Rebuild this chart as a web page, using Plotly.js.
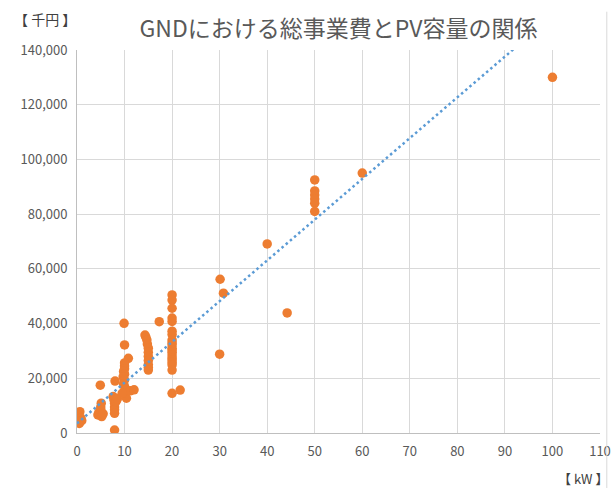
<!DOCTYPE html>
<html>
<head>
<meta charset="utf-8">
<script src="https://cdn.plot.ly/plotly-3.0.1.min.js"></script>
<style>html,body{margin:0;padding:0;background:#fff;overflow:hidden}</style>
</head>
<body>
<div id="chart" style="width:616px;height:488px"></div>
<script>
// PV capacity (kW)
const capacityKW = [
  0.2, 0.3, 0.5, 0.6, 0.8, 1.0,
  4.4, 4.6, 5.0, 5.1, 5.0, 4.9, 5.2, 5.5,
  7.6, 7.8, 7.9, 7.9, 7.9, 7.9, 7.9, 8.0, 8.2, 8.5,
  9.9, 10.0, 10.8, 10.0, 10.0, 10.0, 9.8, 10.0, 9.7, 10.0, 9.8, 10.0, 10.2, 10.4, 11.2, 12.0, 9.5,
  14.3, 14.5, 14.7, 14.8, 15.0, 15.0, 15.0, 15.0, 15.0, 15.0, 15.0, 17.3,
  20, 20, 20, 20, 20, 20, 20, 20, 20, 20, 20, 20, 20, 20, 20, 20, 20, 20, 20, 20, 21.7,
  30.1, 30.8, 30.0,
  40.0, 44.2,
  50, 50, 50, 50, 50, 50,
  60, 100
];
// Total project cost (thousand yen)
const totalCost = [
  4100, 5000, 3500, 7800, 5500, 4500,
  6600, 7500, 8500, 10900, 9500, 17500, 6000, 7000,
  13300, 12000, 10900, 9500, 8500, 7200, 1100, 19000, 11500, 12500,
  40100, 32200, 27300, 25600, 24500, 23500, 22500, 21500, 20500, 19400, 18000, 17000, 16000, 12700, 15400, 15800, 14500,
  35800, 35000, 34000, 32500, 31000, 29500, 28000, 26500, 25000, 24000, 23000, 40700,
  50450, 48600, 45600, 42000, 40800, 37200, 36000, 34000, 33000, 32200, 31000, 30300, 29500, 28500, 27500, 26700, 25800, 24900, 23000, 14500, 15700,
  56200, 51100, 28800,
  69100, 43900,
  92500, 88500, 87000, 85500, 84000, 81000,
  95000, 130000
];
// Linear trendline endpoints
const trendX = [0, 110];
const trendY = [3500, 167400];

const xTicks = [0, 10, 20, 30, 40, 50, 60, 70, 80, 90, 100, 110];
const yTicks = [0, 20000, 40000, 60000, 80000, 100000, 120000, 140000];

const titleText = 'GNDにおける総事業費とPV容量の関係';
const yUnit = '【 千円 】';
const xUnit = '【 kW 】';

const FONT = '"Noto Sans CJK JP", "Noto Sans", sans-serif';

const traces = [
  {
    x: capacityKW, y: totalCost, type: 'scatter', mode: 'markers',
    marker: {color: '#ED7D31', size: 9.5, line: {width: 0}},
    hoverinfo: 'x+y', showlegend: false
  },
  {
    x: trendX, y: trendY, type: 'scatter', mode: 'lines',
    line: {color: '#5B9BD5', width: 2.5, dash: '2.5px,3px'},
    hoverinfo: 'skip', showlegend: false
  }
];

const layout = {
  width: 616, height: 488,
  margin: {l: 77, r: 16, t: 50, b: 55},
  paper_bgcolor: '#ffffff', plot_bgcolor: '#ffffff',
  font: {family: FONT, color: '#595959', size: 13},
  title: {text: titleText, x: 0.5, xref: 'paper', xanchor: 'center', y: 0.94, yref: 'container', yanchor: 'middle',
          font: {family: FONT, size: 23, color: '#595959'}},
  xaxis: {
    range: [0, 110], tickvals: xTicks, ticktext: xTicks.map(String),
    showgrid: true, gridcolor: '#D9D9D9', gridwidth: 1,
    showline: true, linecolor: '#BFBFBF', linewidth: 1,
    zeroline: false, ticks: '', ticklabelstandoff: 6,
    tickfont: {family: FONT, size: 13, color: '#595959'}
  },
  yaxis: {
    range: [0, 140000], tickvals: yTicks, tickformat: ',d',
    showgrid: true, gridcolor: '#D9D9D9', gridwidth: 1,
    showline: true, linecolor: '#BFBFBF', linewidth: 1,
    zeroline: false, ticks: '', ticklabelstandoff: 6,
    tickfont: {family: FONT, size: 13, color: '#595959'}
  },
  annotations: [
    {text: yUnit, xref: 'paper', yref: 'paper', x: -0.125, y: 1.082, xanchor: 'left', yanchor: 'middle',
     showarrow: false, font: {family: FONT, size: 14, color: '#404040'}},
    {text: xUnit, xref: 'paper', yref: 'paper', x: 1.02, y: -0.118, xanchor: 'right', yanchor: 'middle',
     showarrow: false, font: {family: FONT, size: 13, color: '#404040'}}
  ],
  shapes: [
    {type: 'line', xref: 'paper', yref: 'paper', x0: 1.013, x1: 1.013, y0: -0.2, y1: 1.1,
     line: {color: '#D9D9D9', width: 1}}
  ]
};

Plotly.newPlot('chart', traces, layout, {displayModeBar: false, staticPlot: true});
</script>
</body>
</html>
